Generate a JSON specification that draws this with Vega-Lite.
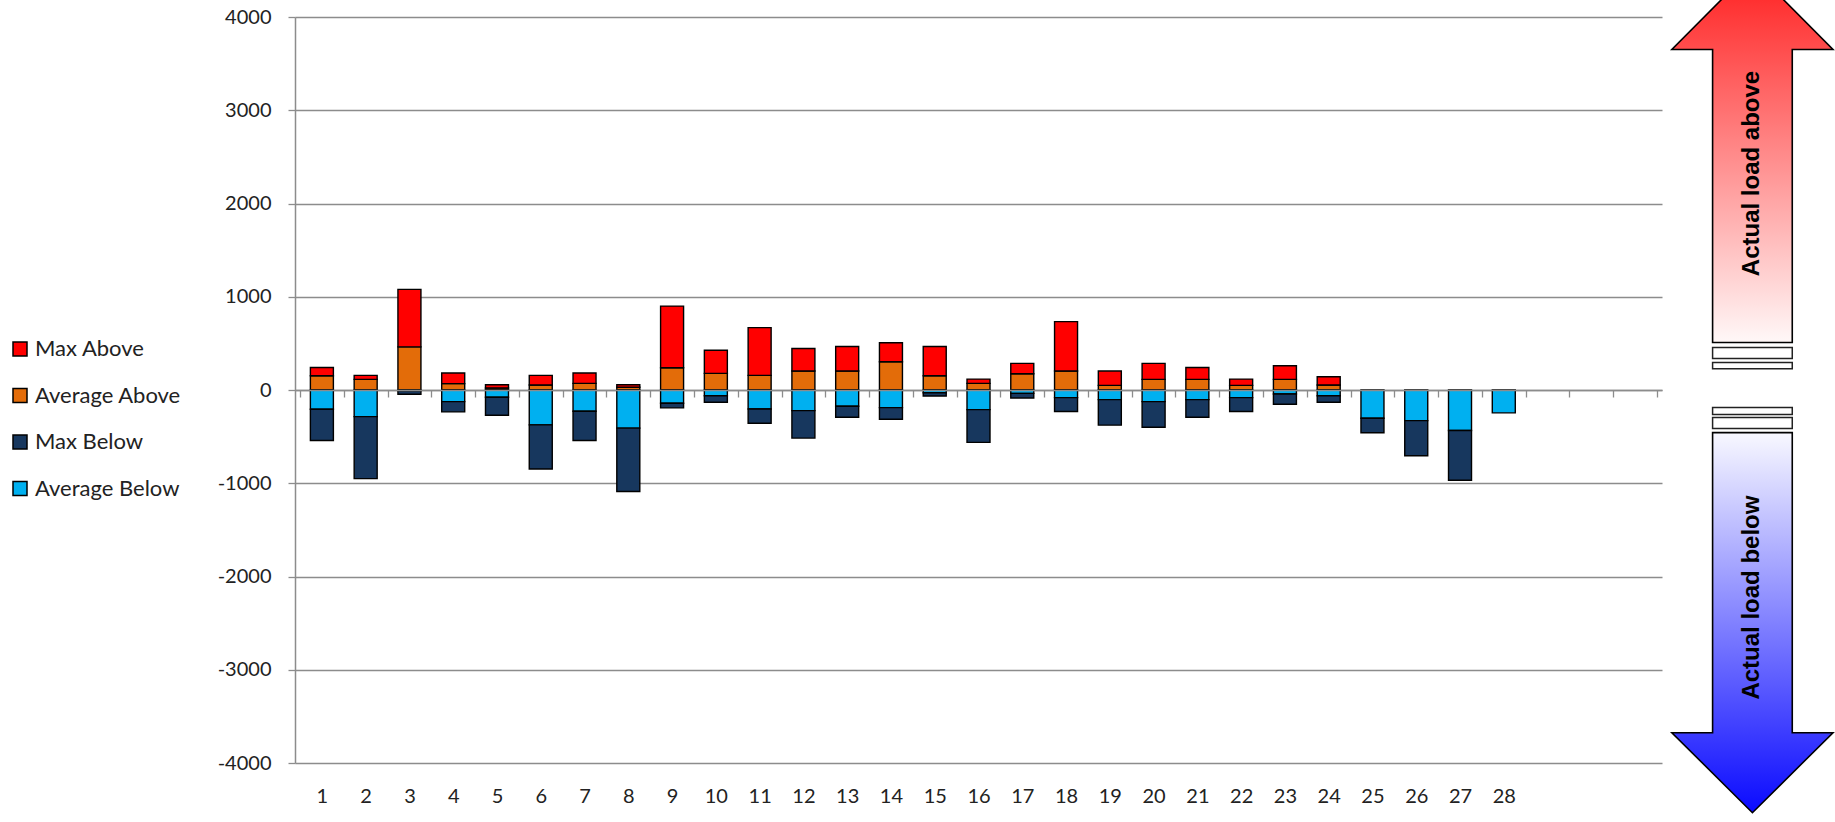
{
  "$schema": "https://vega.github.io/schema/vega-lite/v6.json",
  "width": 1367,
  "height": 746,
  "autosize": "none",
  "padding": {"left": 295, "top": 17, "right": 173, "bottom": 59},
  "background": "white",
  "config": {"view": {"stroke": null}, "font": "Lato"},
  "datasets": {
    "loads": [
      {"bin": 1, "series": "Average Above", "value": 153}, {"bin": 1, "series": "Max Above", "value": 89}, {"bin": 1, "series": "Average Below", "value": -206}, {"bin": 1, "series": "Max Below", "value": -335},
      {"bin": 2, "series": "Average Above", "value": 114}, {"bin": 2, "series": "Max Above", "value": 43}, {"bin": 2, "series": "Average Below", "value": -285}, {"bin": 2, "series": "Max Below", "value": -665},
      {"bin": 3, "series": "Average Above", "value": 463}, {"bin": 3, "series": "Max Above", "value": 616}, {"bin": 3, "series": "Average Below", "value": -8}, {"bin": 3, "series": "Max Below", "value": -37},
      {"bin": 4, "series": "Average Above", "value": 68}, {"bin": 4, "series": "Max Above", "value": 114}, {"bin": 4, "series": "Average Below", "value": -125}, {"bin": 4, "series": "Max Below", "value": -110},
      {"bin": 5, "series": "Average Above", "value": 21}, {"bin": 5, "series": "Max Above", "value": 36}, {"bin": 5, "series": "Average Below", "value": -78}, {"bin": 5, "series": "Max Below", "value": -192},
      {"bin": 6, "series": "Average Above", "value": 53}, {"bin": 6, "series": "Max Above", "value": 104}, {"bin": 6, "series": "Average Below", "value": -374}, {"bin": 6, "series": "Max Below", "value": -473},
      {"bin": 7, "series": "Average Above", "value": 71}, {"bin": 7, "series": "Max Above", "value": 111}, {"bin": 7, "series": "Average Below", "value": -228}, {"bin": 7, "series": "Max Below", "value": -313},
      {"bin": 8, "series": "Average Above", "value": 30}, {"bin": 8, "series": "Max Above", "value": 27}, {"bin": 8, "series": "Average Below", "value": -409}, {"bin": 8, "series": "Max Below", "value": -680},
      {"bin": 9, "series": "Average Above", "value": 238}, {"bin": 9, "series": "Max Above", "value": 662}, {"bin": 9, "series": "Average Below", "value": -142}, {"bin": 9, "series": "Max Below", "value": -50},
      {"bin": 10, "series": "Average Above", "value": 178}, {"bin": 10, "series": "Max Above", "value": 249}, {"bin": 10, "series": "Average Below", "value": -61}, {"bin": 10, "series": "Max Below", "value": -71},
      {"bin": 11, "series": "Average Above", "value": 157}, {"bin": 11, "series": "Max Above", "value": 512}, {"bin": 11, "series": "Average Below", "value": -203}, {"bin": 11, "series": "Max Below", "value": -153},
      {"bin": 12, "series": "Average Above", "value": 203}, {"bin": 12, "series": "Max Above", "value": 242}, {"bin": 12, "series": "Average Below", "value": -221}, {"bin": 12, "series": "Max Below", "value": -295},
      {"bin": 13, "series": "Average Above", "value": 203}, {"bin": 13, "series": "Max Above", "value": 263}, {"bin": 13, "series": "Average Below", "value": -174}, {"bin": 13, "series": "Max Below", "value": -118},
      {"bin": 14, "series": "Average Above", "value": 303}, {"bin": 14, "series": "Max Above", "value": 203}, {"bin": 14, "series": "Average Below", "value": -189}, {"bin": 14, "series": "Max Below", "value": -124},
      {"bin": 15, "series": "Average Above", "value": 153}, {"bin": 15, "series": "Max Above", "value": 313}, {"bin": 15, "series": "Average Below", "value": -30}, {"bin": 15, "series": "Max Below", "value": -35},
      {"bin": 16, "series": "Average Above", "value": 71}, {"bin": 16, "series": "Max Above", "value": 46}, {"bin": 16, "series": "Average Below", "value": -210}, {"bin": 16, "series": "Max Below", "value": -352},
      {"bin": 17, "series": "Average Above", "value": 174}, {"bin": 17, "series": "Max Above", "value": 111}, {"bin": 17, "series": "Average Below", "value": -36}, {"bin": 17, "series": "Max Below", "value": -49},
      {"bin": 18, "series": "Average Above", "value": 203}, {"bin": 18, "series": "Max Above", "value": 530}, {"bin": 18, "series": "Average Below", "value": -82}, {"bin": 18, "series": "Max Below", "value": -149},
      {"bin": 19, "series": "Average Above", "value": 50}, {"bin": 19, "series": "Max Above", "value": 153}, {"bin": 19, "series": "Average Below", "value": -103}, {"bin": 19, "series": "Max Below", "value": -274},
      {"bin": 20, "series": "Average Above", "value": 114}, {"bin": 20, "series": "Max Above", "value": 171}, {"bin": 20, "series": "Average Below", "value": -125}, {"bin": 20, "series": "Max Below", "value": -274},
      {"bin": 21, "series": "Average Above", "value": 114}, {"bin": 21, "series": "Max Above", "value": 128}, {"bin": 21, "series": "Average Below", "value": -103}, {"bin": 21, "series": "Max Below", "value": -189},
      {"bin": 22, "series": "Average Above", "value": 50}, {"bin": 22, "series": "Max Above", "value": 67}, {"bin": 22, "series": "Average Below", "value": -82}, {"bin": 22, "series": "Max Below", "value": -149},
      {"bin": 23, "series": "Average Above", "value": 114}, {"bin": 23, "series": "Max Above", "value": 146}, {"bin": 23, "series": "Average Below", "value": -43}, {"bin": 23, "series": "Max Below", "value": -110},
      {"bin": 24, "series": "Average Above", "value": 53}, {"bin": 24, "series": "Max Above", "value": 89}, {"bin": 24, "series": "Average Below", "value": -61}, {"bin": 24, "series": "Max Below", "value": -71},
      {"bin": 25, "series": "Average Below", "value": -303}, {"bin": 25, "series": "Max Below", "value": -156},
      {"bin": 26, "series": "Average Below", "value": -328}, {"bin": 26, "series": "Max Below", "value": -377},
      {"bin": 27, "series": "Average Below", "value": -434}, {"bin": 27, "series": "Max Below", "value": -534},
      {"bin": 28, "series": "Average Below", "value": -245}
    ],
    "upArrow": [
      {"y": 509, "x": 32.77, "x2": 34.59},
      {"y": 3651, "x": 32.77, "x2": 34.59},
      {"y": 3652, "x": 31.84, "x2": 35.52},
      {"y": 4521, "x": 33.68, "x2": 33.68}
    ],
    "downArrow": [
      {"y": -4533, "x": 33.68, "x2": 33.68},
      {"y": -3675, "x": 31.84, "x2": 35.52},
      {"y": -3674, "x": 32.77, "x2": 34.59},
      {"y": -457, "x": 32.77, "x2": 34.59}
    ],
    "breaks": [
      {"x": 32.77, "x2": 34.59, "y": 455, "y2": 337},
      {"x": 32.77, "x2": 34.59, "y": 294, "y2": 229},
      {"x": 32.77, "x2": 34.59, "y": -189, "y2": -264},
      {"x": 32.77, "x2": 34.59, "y": -296, "y2": -414}
    ],
    "notes": [
      {"x": 33.68, "y": 2322, "label": "Actual load above"},
      {"x": 33.68, "y": -2226, "label": "Actual load below"}
    ]
  },
  "resolve": {"axis": {"x": "independent", "y": "independent"}},
  "layer": [
    {
      "data": {"name": "loads"},
      "mark": {"type": "bar", "width": 23, "stroke": "#000000", "strokeWidth": 1.4},
      "encoding": {
        "x": {
          "field": "bin", "type": "quantitative",
          "scale": {"domain": [0.5, 31.5], "nice": false, "zero": false},
          "axis": {
            "orient": "bottom", "values": [1,2,3,4,5,6,7,8,9,10,11,12,13,14,15,16,17,18,19,20,21,22,23,24,25,26,27,28],
            "domain": false, "ticks": false, "grid": false, "title": null,
            "labelFontSize": 20, "labelColor": "#222222", "labelPadding": 23, "labelFlush": false, "labelOverlap": false, "labelExpr": "'' + datum.value"
          }
        },
        "y": {
          "field": "value", "type": "quantitative", "stack": "zero",
          "scale": {"domain": [-4000, 4000], "nice": false},
          "axis": {
            "orient": "left", "values": [-4000,-3000,-2000,-1000,0,1000,2000,3000,4000], "labelExpr": "'' + datum.value", "title": null,
            "grid": true, "gridColor": "#8c8c8c", "gridWidth": 1.3,
            "domainColor": "#8c8c8c", "domainWidth": 1.5, "tickColor": "#8c8c8c", "tickWidth": 1.3, "tickSize": 7,
            "labelFontSize": 20, "labelColor": "#222222", "labelPadding": 17
          }
        },
        "color": {
          "field": "series", "type": "nominal",
          "scale": {"domain": ["Max Above", "Average Above", "Max Below", "Average Below"], "range": ["#ff0000", "#e36c09", "#17375e", "#00b0f0"]},
          "legend": {
            "orient": "none", "legendX": -286, "legendY": 321, "title": null,
            "symbolType": "square", "symbolSize": 196, "symbolStrokeColor": "#000000", "symbolStrokeWidth": 1.5, "symbolOpacity": 1,
            "labelFontSize": 22, "labelColor": "#222222", "labelFont": "Lato", "rowPadding": 24.5, "labelOffset": 4, "padding": 0
          }
        },
        "order": {"field": "series"}
      }
    },
    {
      "data": {"name": "upArrow"},
      "mark": {"type": "area", "orient": "horizontal", "stroke": "#000000", "strokeWidth": 1.6, "clip": false,
        "fill": {"gradient": "linear", "x1": 0, "y1": 0, "x2": 0, "y2": 1, "stops": [{"offset": 0, "color": "#ff1e1e"}, {"offset": 1, "color": "#fff8f8"}]}},
      "encoding": {
        "y": {"field": "y", "type": "quantitative", "scale": {"domain": [-4000, 4000], "nice": false}, "axis": null},
        "x": {"field": "x", "type": "quantitative", "scale": {"domain": [0.5, 31.5], "nice": false, "zero": false},
          "axis": {"orient": "bottom", "offset": -373, "values": [0.5,1.5,2.5,3.5,4.5,5.5,6.5,7.5,8.5,9.5,10.5,11.5,12.5,13.5,14.5,15.5,16.5,17.5,18.5,19.5,20.5,21.5,22.5,23.5,24.5,25.5,26.5,27.5,28.5,29.5,30.5,31.5],
            "labels": false, "grid": false, "title": null, "domainColor": "#8c8c8c", "domainWidth": 1.6, "tickColor": "#8c8c8c", "tickWidth": 1.3, "tickSize": 7, "zindex": 1}},
        "x2": {"field": "x2"}
      }
    },
    {
      "data": {"name": "downArrow"},
      "mark": {"type": "area", "orient": "horizontal", "stroke": "#000000", "strokeWidth": 1.6, "clip": false,
        "fill": {"gradient": "linear", "x1": 0, "y1": 0, "x2": 0, "y2": 1, "stops": [{"offset": 0, "color": "#f8f8ff"}, {"offset": 1, "color": "#0a0aff"}]}},
      "encoding": {
        "y": {"field": "y", "type": "quantitative", "scale": {"domain": [-4000, 4000], "nice": false}, "axis": null},
        "x": {"field": "x", "type": "quantitative", "scale": {"domain": [0.5, 31.5], "nice": false, "zero": false}, "axis": null},
        "x2": {"field": "x2"}
      }
    },
    {
      "data": {"name": "breaks"},
      "mark": {"type": "rect", "fill": "#ffffff", "stroke": "#222222", "strokeWidth": 1.5, "clip": false},
      "encoding": {
        "x": {"field": "x", "type": "quantitative", "scale": {"domain": [0.5, 31.5], "nice": false, "zero": false}, "axis": null},
        "x2": {"field": "x2"},
        "y": {"field": "y", "type": "quantitative", "scale": {"domain": [-4000, 4000], "nice": false}, "axis": null},
        "y2": {"field": "y2"}
      }
    },
    {
      "data": {"name": "notes"},
      "mark": {"type": "text", "angle": 270, "align": "center", "baseline": "middle", "font": "Liberation Sans", "fontWeight": "bold", "fontSize": 24, "color": "#000000", "clip": false},
      "encoding": {
        "x": {"field": "x", "type": "quantitative", "scale": {"domain": [0.5, 31.5], "nice": false, "zero": false}, "axis": null},
        "y": {"field": "y", "type": "quantitative", "scale": {"domain": [-4000, 4000], "nice": false}, "axis": null},
        "text": {"field": "label"}
      }
    }
  ]
}
